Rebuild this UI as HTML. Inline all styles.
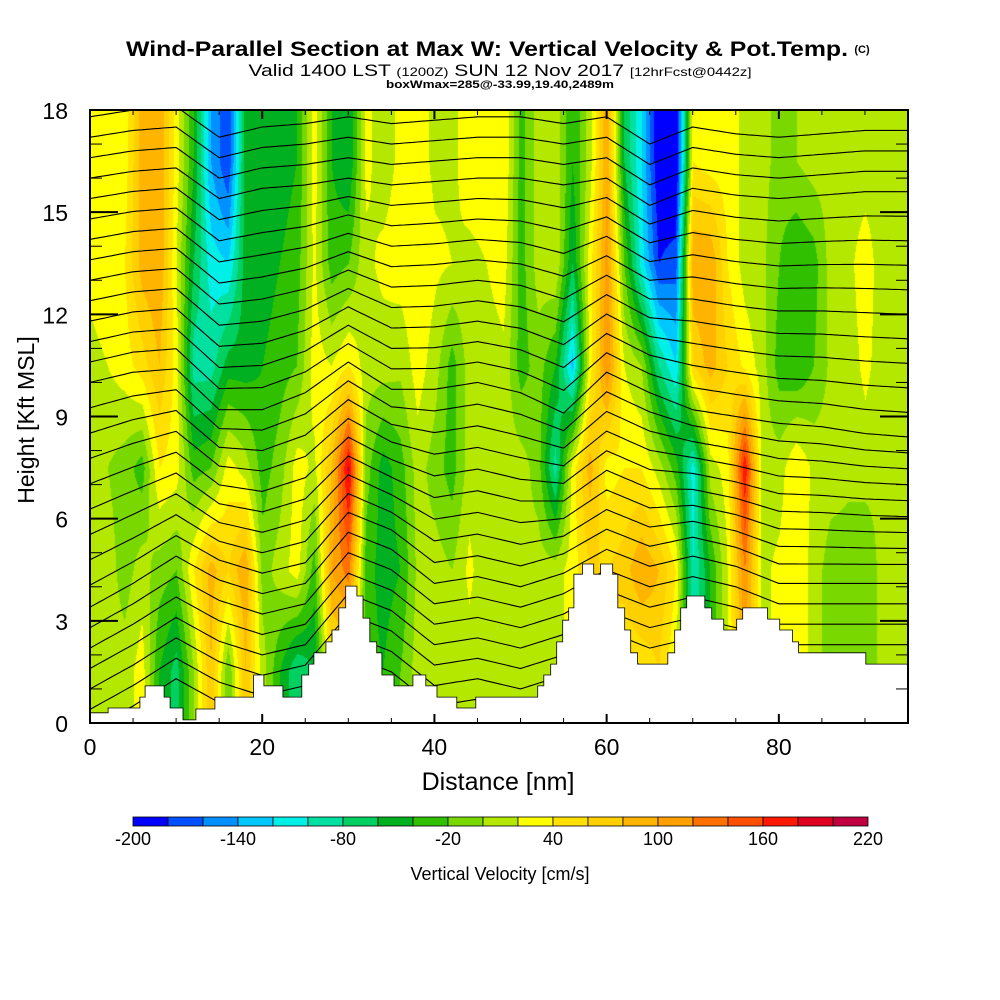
<!DOCTYPE html>
<html><head><meta charset="utf-8">
<style>
html,body{margin:0;padding:0;background:#fff;}
#wrap{position:relative;width:1000px;height:1000px;overflow:hidden;font-family:"Liberation Sans",sans-serif;}
#field{position:absolute;left:90px;top:110px;}
#ov{position:absolute;left:0;top:0;}
</style></head>
<body>
<div id="wrap">
<canvas id="field" width="818" height="613"></canvas>
<svg id="ov" width="1000" height="1000" xmlns="http://www.w3.org/2000/svg">
  <defs><clipPath id="pc"><rect x="90" y="110" width="818" height="613"/></clipPath></defs>
  <g id="contours" clip-path="url(#pc)"></g>
  <g id="terrain" clip-path="url(#pc)"></g>
  <g id="axes"></g>
  <rect x="90" y="110" width="818" height="613" fill="none" stroke="#000" stroke-width="2"/>
  <text x="487" y="56" text-anchor="middle" font-size="21" font-weight="bold" textLength="722" lengthAdjust="spacingAndGlyphs">Wind-Parallel Section at Max W: Vertical Velocity &amp; Pot.Temp.</text>
  <text x="862" y="53" text-anchor="middle" font-size="11" font-weight="bold">(C)</text>
  <text x="500" y="76" text-anchor="middle" font-size="17" textLength="503" lengthAdjust="spacingAndGlyphs">Valid 1400 LST <tspan font-size="12">(1200Z)</tspan> SUN 12 Nov 2017 <tspan font-size="12">[12hrFcst@0442z]</tspan></text>
  <text x="500" y="88" text-anchor="middle" font-size="11" font-weight="bold" textLength="228" lengthAdjust="spacingAndGlyphs">boxWmax=285@-33.99,19.40,2489m</text>
  <text x="498" y="790" text-anchor="middle" font-size="25">Distance [nm]</text>
  <text transform="translate(34,420) rotate(-90)" text-anchor="middle" font-size="23">Height [Kft MSL]</text>
  <g id="cbar"></g>
  <text x="500" y="880" text-anchor="middle" font-size="18">Vertical Velocity [cm/s]</text>
</svg>
</div>
<script>
// ---- data ----
var colNm = [0,2,4,6,8,10,12,14,16,18,20,22,24,26,28,30,32,34,36,38,40,42,44,46,48,50,52,54,56,58,60,62,64,66,68,70,72,74,76,78,80,82,84,86,88,90,92,94];
var rowKft = [1.5,4.5,7.5,10.5,13.5,16.5];
var w15  = [10,10,10,30,-40,-70,0,80,-20,80,10,-40,-80,-60,50,50,-30,-40,-20,10,10,0,10,10,10,10,10,10,30,60,60,40,40,60,20,-100,-40,20,100,15,25,40,10,-10,-10,-20,10,10];
var w45  = [10,10,-10,10,-10,-20,40,90,60,100,-10,10,30,-30,100,130,-30,-50,-40,5,10,0,25,5,10,5,10,10,30,60,60,70,100,80,40,-100,-40,20,120,15,25,40,10,-10,-10,-20,10,10];
var w75  = [5,0,-10,-30,40,30,-30,-20,30,10,-30,-10,30,15,80,190,-10,-50,-30,10,-10,-30,10,10,10,10,-10,-90,30,90,30,40,40,10,-30,-110,10,30,180,10,10,40,15,10,5,10,5,5];
var w105 = [15,20,30,50,80,30,-90,-90,-50,-50,-40,-30,-20,30,20,40,10,10,5,30,10,-30,10,10,15,-30,-10,-40,-130,30,120,20,0,-80,-120,60,90,60,35,10,-30,-40,-20,5,10,25,10,5];
var w135 = [25,30,40,90,100,20,-60,-110,-120,-50,-50,-40,-30,25,-30,-20,15,25,30,35,25,20,15,20,30,-30,10,20,-60,30,110,-20,-110,-180,-170,100,100,40,10,5,-20,-40,-30,10,15,30,10,10];
var w165 = [30,30,30,90,100,30,-40,-140,-180,-50,-40,-50,-40,30,-40,-60,25,10,25,30,15,15,30,30,40,-30,10,15,-40,10,100,-60,-120,-200,-210,40,30,30,15,10,-10,0,10,10,10,10,10,10];
var terrainNm = [0,2.1,5.8,6.4,8.6,9.3,10.8,12.3,14.5,19.0,20.2,22.4,24.6,25.4,26.0,27.4,28.1,28.9,29.7,31.0,31.7,32.5,33.3,33.9,35.3,37.5,39.0,40.3,42.6,44.8,52.0,52.7,53.5,54.2,54.9,55.6,56.2,57.2,58.5,59.3,60.7,61.3,62.1,62.8,63.6,67.1,67.9,68.6,69.3,71.4,72.2,73.6,75.1,75.8,78.7,80.1,81.6,82.3,90.1];
var terrainKft = [0.3,0.44,0.76,1.09,0.76,0.44,0.09,0.41,0.76,1.41,1.09,0.76,1.41,1.73,2.06,2.38,2.73,3.38,4.02,3.73,3.08,2.38,2.06,1.41,1.09,1.41,1.09,0.76,0.44,0.76,1.09,1.41,1.73,2.38,3.02,3.38,4.37,4.67,4.37,4.67,4.37,3.38,2.73,2.06,1.73,2.06,2.73,3.38,3.73,3.38,3.05,2.73,3.05,3.38,3.05,2.73,2.38,2.06,1.73];
var dispNm = [0,5,10,15,20,25,30,35,40,45,50,55,60,65,70,75,80,85,90,95];
var dispLow  = [-1.2,-0.5,0.3,-0.4,-0.8,-0.5,1.0,0.5,-0.5,-0.3,-0.6,-0.2,0.5,0,0.3,0,-0.5,-0.5,-0.5,-0.5];
var dispMid  = [0,0.3,0.4,-0.8,-0.8,-0.3,0.6,-0.2,-0.2,0,-0.3,-0.9,0.3,-0.3,-0.8,-1.0,-1.2,-1.3,-1.5,-1.6];
var dispHigh = [0,0.2,0.3,-0.6,-0.3,-0.2,0,-0.2,-0.1,0,0,-0.2,0,-0.8,-0.3,-0.5,-0.6,-0.5,-0.4,-0.4];
var isentropeBase = [1.0,1.6,2.2,2.8,3.4,4.0,4.6,5.2,5.8,6.4,7.0,7.6,8.2,8.8,9.4,10.0,10.6,11.2,11.8,12.4,13.0,13.6,14.2,14.8,15.4,16.0,16.6,17.2,17.8];
var xTicks = [0,20,40,60,80];
var yTicks = [0,3,6,9,12,15,18];
var cbarColors = ["#0000ff","#0050ff","#0090ff","#00c8ff","#00f0e8","#00e0a0","#00d060","#00b020","#30c000","#78d800","#b4e800","#ffff00","#ffe000","#ffd000","#ffb400","#ffa000","#ff7000","#ff5000","#ff1800","#e00020","#c00040"];
var cbarLabels = [-200,-140,-80,-20,40,100,160,220];

// ---- scales ----
var X0=90, Y0=723, PX=818/95, PY=613/18;
function sx(nm){return X0+nm*PX;}
function sy(k){return Y0-k*PY;}
var NS="http://www.w3.org/2000/svg";
var rows=[w15,w45,w75,w105,w135,w165];

function interp1(xs,ys,x){
  if(x<=xs[0])return ys[0];
  for(var i=1;i<xs.length;i++){if(x<=xs[i]){var t=(x-xs[i-1])/(xs[i]-xs[i-1]);return ys[i-1]+t*(ys[i]-ys[i-1]);}}
  return ys[ys.length-1];
}
function hex(c){return [parseInt(c.substr(1,2),16),parseInt(c.substr(3,2),16),parseInt(c.substr(5,2),16)];}
var rgb=cbarColors.map(hex);

// ---- field ----
var cv=document.getElementById('field'),ctx=cv.getContext('2d');
var img=ctx.createImageData(818,613);
for(var px=0;px<818;px++){
  var nm=px/PX;
  var colv=[];for(var j=0;j<rows.length;j++)colv.push(interp1(colNm,rows[j],nm));
  for(var py=0;py<613;py++){
    var k=(613-py)/PY;
    var v=interp1(rowKft,colv,k);
    var i=Math.floor((v+200)/20);if(i<0)i=0;if(i>20)i=20;
    var o=(py*818+px)*4;img.data[o]=rgb[i][0];img.data[o+1]=rgb[i][1];img.data[o+2]=rgb[i][2];img.data[o+3]=255;
  }
}
ctx.putImageData(img,0,0);

// ---- isentropes ----
var cg=document.getElementById('contours');
isentropeBase.forEach(function(b,li){
  var d='';
  for(var s=0;s<=190;s++){
    var nm=s*0.5;
    var dl=interp1(dispNm,dispLow,nm),dm=interp1(dispNm,dispMid,nm),dh=interp1(dispNm,dispHigh,nm);
    var dd=interp1([5,10,16],[dl,dm,dh],b);
    d+=(s===0?'M':'L')+sx(nm).toFixed(1)+','+sy(b+dd).toFixed(1);
  }
  var p=document.createElementNS(NS,'path');
  p.setAttribute('d',d);p.setAttribute('fill','none');p.setAttribute('stroke','#000');p.setAttribute('stroke-width','1.1');
  
  
  cg.appendChild(p);
});

// ---- terrain ----
(function(){
  var d='M'+sx(0)+','+sy(0);
  for(var i=0;i<terrainNm.length;i++){
    var xe=(i+1<terrainNm.length)?terrainNm[i+1]:95;
    d+='L'+sx(terrainNm[i]).toFixed(1)+','+sy(terrainKft[i]).toFixed(1)+'L'+sx(xe).toFixed(1)+','+sy(terrainKft[i]).toFixed(1);
  }
  d+='L'+sx(95)+','+sy(0)+'Z';
  var p=document.createElementNS(NS,'path');
  p.setAttribute('d',d);p.setAttribute('fill','#fff');p.setAttribute('stroke','#000');p.setAttribute('stroke-width','0.8');
  
  
  document.getElementById('terrain').appendChild(p);
})();

// ---- axes ----
var ag=document.getElementById('axes');
function line(x1,y1,x2,y2,w){var l=document.createElementNS(NS,'line');l.setAttribute('x1',x1);l.setAttribute('y1',y1);l.setAttribute('x2',x2);l.setAttribute('y2',y2);l.setAttribute('stroke','#000');l.setAttribute('stroke-width',w);
  
  
  ag.appendChild(l);}
function txt(x,y,s,anchor,size,name){var t=document.createElementNS(NS,'text');t.setAttribute('x',x);t.setAttribute('y',y);t.setAttribute('text-anchor',anchor);t.setAttribute('font-size',size);t.textContent=s;
  
  
  return t;}
for(var n=0;n<=95;n+=5){var big=(n%20===0);line(sx(n),Y0,sx(n),Y0-(big?9:5),big?2:1);line(sx(n),110,sx(n),110+(big?9:5),big?2:1);}
for(var k=0;k<=18;k++){var big=(k%3===0);line(X0,sy(k),X0+(big?28:12),sy(k),big?2:1);line(908,sy(k),908-(big?28:12),sy(k),big?2:1);}
xTicks.forEach(function(v){ag.appendChild(txt(sx(v),755,String(v),'middle',23,'x-tick-label'));});
yTicks.forEach(function(v){ag.appendChild(txt(68,sy(v)+9,String(v),'end',23,'y-tick-label'));});

// ---- colorbar ----
var cb=document.getElementById('cbar'),CB0=133,CBW=735/21;
cbarColors.forEach(function(c,i){var r=document.createElementNS(NS,'rect');r.setAttribute('x',CB0+i*CBW);r.setAttribute('y',817);r.setAttribute('width',CBW);r.setAttribute('height',9);r.setAttribute('fill',c);r.setAttribute('stroke','#000');r.setAttribute('stroke-width','0.8');
  
  
  cb.appendChild(r);});
cbarLabels.forEach(function(v){cb.appendChild(txt(CB0+(v+200)/20*CBW,845,String(v),'middle',18,'colorbar-tick-label'));});
</script>
</body></html>
